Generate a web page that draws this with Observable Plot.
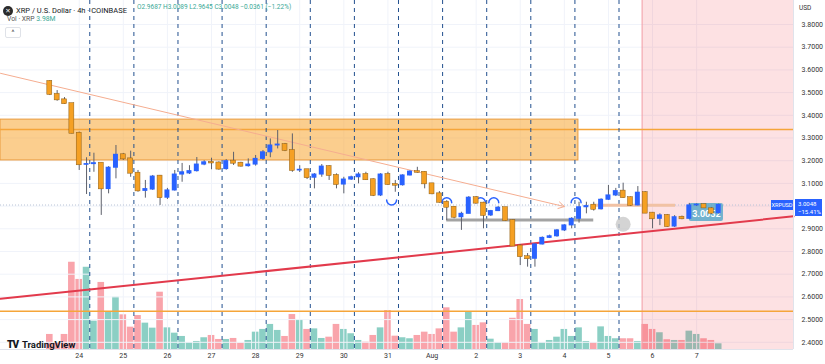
<!DOCTYPE html>
<html><head><meta charset="utf-8">
<script src="https://cdn.jsdelivr.net/npm/d3@7"></script>
<script src="https://cdn.jsdelivr.net/npm/@observablehq/plot@0.6"></script>
<style>
body{margin:0;background:#fff;font-family:Roboto,"DejaVu Sans",sans-serif;}
#wrap{position:relative;width:825px;height:364px;overflow:hidden;background:#fff}
#wrap svg{position:absolute;left:0;top:0}
.ov{position:absolute;white-space:nowrap;line-height:1}
</style></head><body><div id="wrap"></div>
<script>
// ---- data (4h candles, XRP/USD, Coinbase) ----
const firstBar = "2025-07-23T08:00:00Z";
const opens  = [3.549,3.492,3.468,3.451,3.321,3.182,3.185,3.189,3.075,3.169,3.226,3.208,3.145,3.067,3.073,3.132,3.037,3.069,3.139,3.144,3.154,3.183,3.193,3.190,3.163,3.198,3.189,3.176,3.183,3.208,3.237,3.267,3.271,3.245,3.157,3.160,3.125,3.139,3.174,3.135,3.095,3.117,3.127,3.139,3.116,3.047,3.139,3.095,3.092,3.135,3.152,3.149,3.098,3.054,3.017,2.995,2.951,2.966,3.037,3.013,2.959,2.978,2.993,2.936,2.824,2.777,2.768,2.831,2.860,2.867,2.893,2.915,2.944,2.995,3.004,2.986,3.028,3.047,3.066,3.037,3.003,3.059,2.969,2.944,2.959,2.910,2.951,2.944,3.003,3.006,2.988,2.9687];
const highs  = [3.553,3.509,3.478,3.452,3.326,3.213,3.233,3.189,3.174,3.267,3.232,3.242,3.157,3.113,3.135,3.135,3.078,3.157,3.188,3.178,3.214,3.200,3.211,3.195,3.205,3.237,3.193,3.208,3.223,3.245,3.296,3.333,3.276,3.318,3.178,3.161,3.143,3.183,3.178,3.142,3.127,3.132,3.147,3.149,3.120,3.143,3.149,3.113,3.138,3.155,3.171,3.152,3.100,3.064,3.024,2.998,2.973,3.042,3.042,3.017,2.981,2.998,2.994,2.941,2.830,2.791,2.835,2.864,2.872,2.897,2.918,2.949,3.017,3.017,3.017,3.032,3.091,3.078,3.101,3.040,3.086,3.064,2.972,2.966,2.963,2.958,2.956,3.012,3.010,3.009,2.994,3.0089];
const lows   = [3.487,3.462,3.448,3.318,3.157,3.051,3.149,2.959,3.054,3.120,3.201,3.127,3.061,3.035,3.069,3.003,3.029,3.066,3.105,3.139,3.150,3.178,3.160,3.158,3.158,3.179,3.172,3.172,3.176,3.201,3.213,3.252,3.240,3.149,3.148,3.117,3.076,3.127,3.113,3.076,3.054,3.113,3.098,3.113,3.042,3.042,3.091,3.061,3.088,3.133,3.145,3.076,3.050,3.013,2.936,2.944,2.893,2.966,3.010,2.900,2.954,2.976,2.932,2.822,2.738,2.731,2.731,2.829,2.857,2.863,2.888,2.900,2.925,2.966,2.978,2.983,3.025,3.042,3.034,2.999,3.001,2.967,2.900,2.914,2.906,2.906,2.940,2.941,2.998,2.989,2.963,2.9645];
const closes = [3.492,3.468,3.451,3.321,3.182,3.185,3.189,3.076,3.169,3.226,3.208,3.145,3.067,3.075,3.130,3.037,3.069,3.139,3.149,3.154,3.183,3.193,3.190,3.163,3.198,3.189,3.176,3.183,3.208,3.237,3.267,3.271,3.245,3.157,3.160,3.125,3.139,3.174,3.135,3.095,3.117,3.127,3.139,3.116,3.047,3.139,3.095,3.092,3.135,3.152,3.149,3.098,3.054,3.017,2.995,2.951,2.966,3.037,3.013,2.959,2.978,2.993,2.936,2.824,2.777,2.768,2.831,2.860,2.867,2.893,2.915,2.944,2.995,3.000,2.986,3.028,3.047,3.066,3.037,3.003,3.059,2.969,2.944,2.959,2.910,2.951,2.944,3.003,3.006,2.992,2.9687,3.0048];
const volumes = [10.5,4.9,10.5,60.9,48.9,57.4,19.8,46.8,26.5,36.5,24.2,15.6,23.7,18.4,14.9,40.0,15.1,11.4,9.1,4.7,5.6,8.2,9.8,7.0,7.0,7.7,4.4,6.3,12.1,14.0,17.5,13.3,9.1,24.4,20.7,14.0,14.4,7.7,8.6,17.5,14.0,11.0,6.3,5.1,9.8,15.1,27.2,9.3,8.2,7.5,9.8,12.1,10.5,14.4,29.1,12.1,15.1,26.5,16.8,18.6,7.2,4.7,4.7,21.8,34.9,17.5,14.0,4.7,6.3,8.6,14.0,9.1,15.1,5.6,4.7,15.8,9.1,7.5,7.5,7.5,5.6,17.5,14.0,11.7,6.8,6.3,6.3,12.8,10.5,7.5,6.3,3.98];

const tickDates  = ["2025-07-24","2025-07-25","2025-07-26","2025-07-27","2025-07-28","2025-07-29","2025-07-30","2025-07-31","2025-08-01","2025-08-02","2025-08-03","2025-08-04","2025-08-05","2025-08-06","2025-08-07"];
const tickLabels = ["24","25","26","27","28","29","30","31","Aug","2","3","4","5","6","7"];
const priceGrid = [2.4,2.5,2.6,2.7,2.8,2.9,3.0,3.1,3.2,3.3,3.4,3.5,3.6,3.7,3.8];
// 3.0000 is hidden behind the last-price label in the reference
const priceTickLabels = [2.4,2.5,2.6,2.7,2.8,2.9,3.1,3.2,3.3,3.4,3.5,3.6,3.7,3.8];
const sessionLines = ["2025-07-24T05:45Z","2025-07-25T05:45Z","2025-07-26T05:45Z","2025-07-27T05:45Z","2025-07-28T05:45Z","2025-07-29T05:45Z","2025-07-30T05:45Z","2025-07-31T05:45Z","2025-08-01T05:45Z","2025-08-02T05:45Z","2025-08-03T05:45Z","2025-08-04T05:45Z","2025-08-05T05:45Z"];

// drawings
const supplyZone = {start:"2025-07-22T05:10Z", end:"2025-08-04T07:40Z", low:3.201, high:3.381};
const hLevels = [3.337, 2.537];
const redTrend = [{t:"2025-07-22T05:10Z", p:2.592},{t:"2025-08-09T04:42Z", p:2.955}];
const fallArrow = {t1:"2025-07-22T05:10Z", p1:3.585, t2:"2025-08-04T00:00Z", p2:2.998};
const grayBar = {t1:"2025-08-01T08:00Z", t2:"2025-08-04T16:00Z", p:2.939};
const tanBar = {t1:"2025-08-04T16:00Z", t2:"2025-08-06T12:30Z", p:3.004};
const circleMark = {t:"2025-08-05T08:00Z", p:2.920};
const arcCenters = ["2025-08-01T08:00Z","2025-08-02T02:24Z","2025-08-02T09:36Z","2025-08-04T06:24Z"];
const arcPrice = 3.015;
const cupCenter = "2025-07-31T02:00Z";
const pinkStart = "2025-08-05T18:20Z";
const note = {t1:"2025-08-06T20:00Z", t2:"2025-08-07T14:36Z", low:2.932, high:3.011, label:"3.0052"};
const lastPrice = 3.0048, lastChange = "−15.41%";

// ---- build ----
const H = 3600e3;
const t0 = Date.parse(firstBar);
const xDomain = [new Date(t0 - 26.83*H), new Date(t0 + 404.7*H)];
const yDomain = [2.3683, 3.9057];
const D = s => new Date(s);
const labelMap = new Map(tickDates.map((d,i)=>[+D(d), tickLabels[i]]));
const candles = opens.map((o,i)=>({t:new Date(t0+i*4*H), o, h:highs[i], l:lows[i], c:closes[i], v:volumes[i], up:closes[i]>=o}));
const upC = candles.filter(d=>d.up), dnC = candles.filter(d=>!d.up);
const BLUE="#2962ff", ORANGE="#f5a023";
const bx1 = d=>new Date(+d.t-1.35*H), bx2 = d=>new Date(+d.t+1.35*H);
const vx1 = d=>new Date(+d.t-1.8*H), vx2 = d=>new Date(+d.t+1.8*H);
const common = {width:825, height:364, marginLeft:0, marginRight:32, marginTop:0, marginBottom:15};

const vol = Plot.plot({...common,
  style:{background:"#fff"},
  x:{type:"utc", domain:xDomain, axis:null},
  y:{domain:[0,243.6], axis:null},
  marks:[
    Plot.rect(upC,{x1:vx1,x2:vx2,y1:0,y2:"v",fill:"#089981",fillOpacity:0.47}),
    Plot.rect(dnC,{x1:vx1,x2:vx2,y1:0,y2:"v",fill:"#f23645",fillOpacity:0.45})
  ]});

const arcs = arcCenters.map(c=>({x1:new Date(+D(c)-2.7*H), x2:new Date(+D(c)+2.7*H), y:arcPrice}));
const cup = [{x1:new Date(+D(cupCenter)-2.7*H), x2:new Date(+D(cupCenter)+2.7*H), y:arcPrice+0.012}];

const price = Plot.plot({...common,
  style:{background:"transparent", fontFamily:"Roboto, sans-serif", fontSize:"7px", color:"#333"},
  x:{type:"utc", domain:xDomain, ticks:tickDates.map(D), tickFormat:d=>labelMap.get(+d)||"", tickSize:0, tickPadding:4, label:null},
  y:{domain:yDomain, axis:"right", ticks:priceTickLabels, tickFormat:d3.format(".4f"), tickSize:0, tickPadding:8, label:null},
  marks:[
    Plot.ruleY(priceGrid,{stroke:"#f0f3fa"}),
    Plot.ruleX(tickDates.map(D),{stroke:"#f0f3fa"}),
    Plot.rect([0],{x1:D(pinkStart),x2:xDomain[1],y1:yDomain[0],y2:yDomain[1],fill:"#f23645",fillOpacity:0.15}),
    Plot.ruleX([D(pinkStart)],{stroke:"#f3a1a9",strokeWidth:1}),
    Plot.rect([supplyZone],{x1:d=>D(d.start),x2:d=>D(d.end),y1:"low",y2:"high",fill:"#f8a632",fillOpacity:0.55,stroke:"#e99a3c",strokeWidth:1}),
    Plot.ruleY(hLevels,{stroke:"#f5a53a",strokeWidth:1.5}),
    Plot.ruleX(sessionLines.map(D),{stroke:"#22508f",strokeDasharray:"4,4",strokeWidth:1}),
    Plot.ruleY([lastPrice],{stroke:"#b8c3d6",strokeDasharray:"1,2"}),
    Plot.line(redTrend,{x:d=>D(d.t),y:"p",stroke:"#e23a4c",strokeWidth:2}),
    Plot.arrow([fallArrow],{x1:d=>D(d.t1),y1:"p1",x2:d=>D(d.t2),y2:"p2",stroke:"#f5ad90",strokeWidth:1,headLength:10}),
    Plot.ruleY([grayBar],{y:"p",x1:d=>D(d.t1),x2:d=>D(d.t2),stroke:"#a3a3a3",strokeWidth:3}),
    Plot.ruleY([tanBar],{y:"p",x1:d=>D(d.t1),x2:d=>D(d.t2),stroke:"#f1c2a4",strokeWidth:3}),
    Plot.dot([circleMark],{x:d=>D(d.t),y:"p",r:7.5,fill:"#c6c6c6",fillOpacity:0.75}),
    Plot.arrow(arcs,{x1:"x1",x2:"x2",y1:"y",y2:"y",bend:90,headLength:0,stroke:"#2962ff",strokeWidth:1.5}),
    Plot.arrow(cup,{x1:"x1",x2:"x2",y1:"y",y2:"y",bend:-90,headLength:0,stroke:"#2962ff",strokeWidth:1.5}),
    Plot.rect([note],{x1:d=>D(d.t1),x2:d=>D(d.t2),y1:"low",y2:"high",fill:"#4fa6c8",fillOpacity:0.8,rx:2}),
    Plot.text([note],{x:d=>new Date((+D(d.t1)+ +D(d.t2))/2),y:d=>(d.low+d.high)/2,text:"label",fill:"#fff",fontSize:9,fontWeight:"bold",dy:2}),
    Plot.ruleX(candles,{x:"t",y1:"l",y2:"h",stroke:"#5d606b",strokeWidth:1}),
    Plot.rect(dnC,{x1:bx1,x2:bx2,y1:"o",y2:"c",fill:ORANGE,stroke:"#8a5a12",strokeWidth:0.5,insetTop:-0.5,insetBottom:-0.5}),
    Plot.rect(upC,{x1:bx1,x2:bx2,y1:"o",y2:"c",fill:BLUE,insetTop:-0.5,insetBottom:-0.5}),
    Plot.ruleY([yDomain[0]],{stroke:"#e0e3eb"}),
    Plot.ruleX([xDomain[1]],{stroke:"#e0e3eb"})
  ]});

const wrap = document.getElementById("wrap");
wrap.appendChild(vol);
wrap.appendChild(price);

const yc = price.scale("y").apply(lastPrice);
const ov = (html, css) => { const d=document.createElement("div"); d.className="ov"; d.style.cssText=css; d.innerHTML=html; wrap.appendChild(d); };
ov(`<span style="display:inline-block;width:10px;height:10px;border-radius:50%;background:#2b2b2b;color:#fff;font-size:6.5px;text-align:center;line-height:10px;vertical-align:middle;margin-right:3px">✕</span><span style="font-size:7.5px;color:#131722;vertical-align:middle">XRP / U.S. Dollar · 4h · COINBASE</span>`, "left:3px;top:2px;");
ov(`<span style="color:#3aa896">O2.9687 H3.0089 L2.9645 C3.0048 −0.0361 (−1.22%)</span>`, "left:137px;top:4px;font-size:6.5px;");
ov(`<span style="color:#555">Vol · XRP</span> <span style="color:#3aa896">3.98M</span>`, "left:7px;top:16px;font-size:6.8px;");
ov(`^`, "left:5px;top:27px;width:14px;height:9px;border:1px solid #dfe2e8;border-radius:2px;font-size:7px;color:#444;text-align:center;line-height:11px;background:#fff");
ov(`USD`, "left:799px;top:5px;font-size:6.5px;color:#333");
ov(`XRPUSD`, `left:771px;top:${yc-5}px;width:22px;height:10px;background:${BLUE};color:#fff;font-size:5.6px;text-align:center;line-height:10px`);
ov(`<div style="height:8px">3.0048</div><div style="height:8px">${lastChange}</div>`, `left:795px;top:${yc-6}px;width:27px;height:17px;background:${BLUE};color:#fff;font-size:6px;line-height:8px;padding-top:1px;padding-left:3px;box-sizing:border-box`);
ov(`<span style="font-weight:900;font-size:10px;letter-spacing:-1px;color:#131722">TV</span> <span style="font-weight:700;font-size:9.5px;color:#131722">TradingView</span>`, "left:7px;top:335px;");
</script></body></html>
